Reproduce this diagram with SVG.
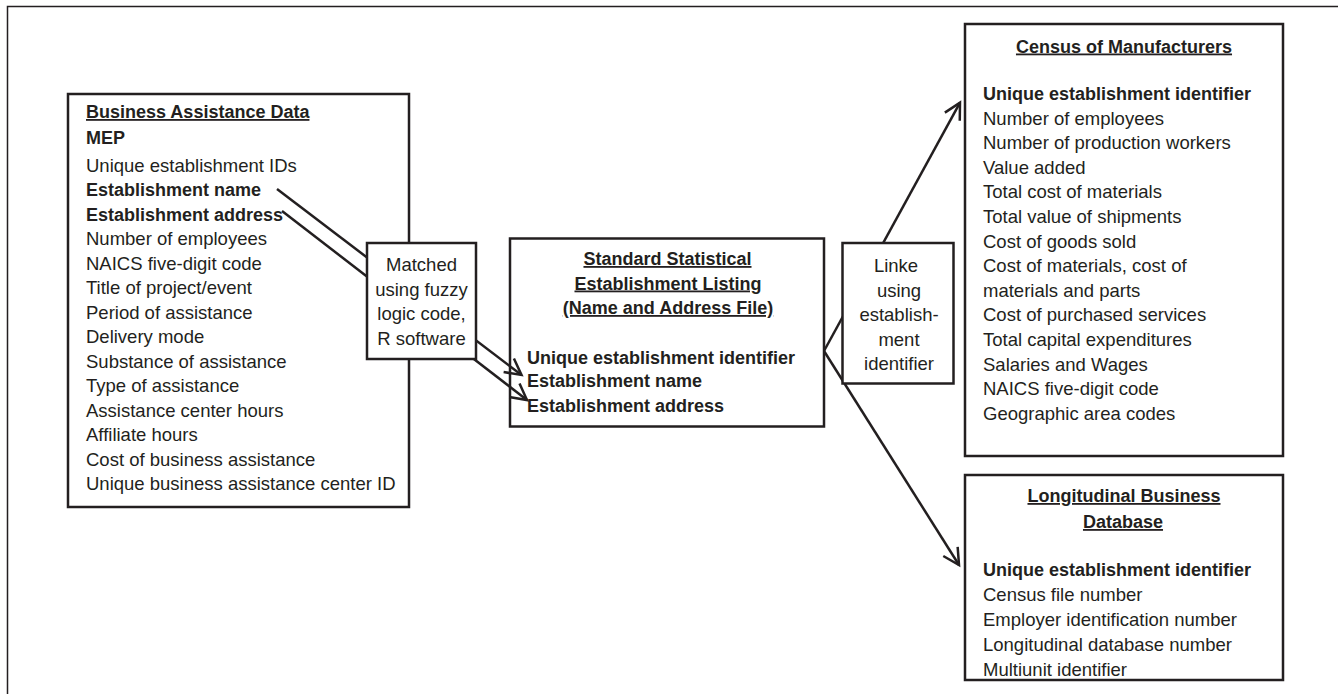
<svg xmlns="http://www.w3.org/2000/svg" width="1338" height="694" viewBox="0 0 1338 694">
<style>
text{font-family:"Liberation Sans",Arial,sans-serif;fill:#231f20;}
.r{font-size:18.5px;}
.b{font-size:18px;font-weight:bold;}
.u{text-decoration:underline;}
.m{text-anchor:middle;}
.box{fill:#fff;stroke:#231f20;stroke-width:2.5;}
.ln{fill:none;stroke:#231f20;stroke-width:2.5;}
.frame{fill:none;stroke:#231f20;stroke-width:1.5;}
</style>
<defs>
<marker id="arr" markerUnits="userSpaceOnUse" markerWidth="40" markerHeight="40" refX="0" refY="0" viewBox="-20 -20 40 40" orient="auto" overflow="visible">
<path d="M-16,-8.5 L0,0 L-16,8.5" fill="none" stroke="#231f20" stroke-width="2.5"/>
</marker>
</defs>
<rect width="1338" height="694" fill="#fff"/>
<path class="frame" d="M7.5,694 V6.5 H1338"/>

<g id="business-assistance">
<rect class="box" x="68" y="94" width="341" height="413"/>
<text class="b u" x="86" y="118">Business Assistance Data</text>
<text class="b" x="86" y="144">MEP</text>
<text class="r" x="86" y="171.5">Unique establishment IDs</text>
<text class="b" x="86" y="196">Establishment name</text>
<text class="b" x="86" y="220.5">Establishment address</text>
<text class="r" x="86" y="245">Number of employees</text>
<text class="r" x="86" y="269.5">NAICS five-digit code</text>
<text class="r" x="86" y="294">Title of project/event</text>
<text class="r" x="86" y="318.5">Period of assistance</text>
<text class="r" x="86" y="343">Delivery mode</text>
<text class="r" x="86" y="367.5">Substance of assistance</text>
<text class="r" x="86" y="392">Type of assistance</text>
<text class="r" x="86" y="416.5">Assistance center hours</text>
<text class="r" x="86" y="441">Affiliate hours</text>
<text class="r" x="86" y="465.5">Cost of business assistance</text>
<text class="r" x="86" y="490">Unique business assistance center ID</text>
</g>

<g id="ssel">
<rect class="box" x="510" y="238.5" width="314" height="188"/>
<text class="b u m" x="667.5" y="265">Standard Statistical</text>
<text class="b u m" x="668" y="289.5">Establishment Listing</text>
<text class="b u m" x="668" y="314">(Name and Address File)</text>
<text class="b" x="527" y="363.5">Unique establishment identifier</text>
<text class="b" x="527" y="387">Establishment name</text>
<text class="b" x="527" y="411.5">Establishment address</text>
</g>

<g id="census">
<rect class="box" x="965" y="24" width="318" height="432"/>
<text class="b u m" x="1124" y="52.5">Census of Manufacturers</text>
<text class="b" x="983" y="100">Unique establishment identifier</text>
<text class="r" x="983" y="124.6">Number of employees</text>
<text class="r" x="983" y="149.2">Number of production workers</text>
<text class="r" x="983" y="173.8">Value added</text>
<text class="r" x="983" y="198.4">Total cost of materials</text>
<text class="r" x="983" y="223">Total value of shipments</text>
<text class="r" x="983" y="247.6">Cost of goods sold</text>
<text class="r" x="983" y="272.2">Cost of materials, cost of</text>
<text class="r" x="983" y="296.8">materials and parts</text>
<text class="r" x="983" y="321.4">Cost of purchased services</text>
<text class="r" x="983" y="346">Total capital expenditures</text>
<text class="r" x="983" y="370.6">Salaries and Wages</text>
<text class="r" x="983" y="395.2">NAICS five-digit code</text>
<text class="r" x="983" y="419.8">Geographic area codes</text>
</g>

<g id="lbd">
<rect class="box" x="965" y="475" width="318" height="205"/>
<text class="b u m" x="1124" y="502">Longitudinal Business</text>
<text class="b u m" x="1123" y="528">Database</text>
<text class="b" x="983" y="576">Unique establishment identifier</text>
<text class="r" x="983" y="601">Census file number</text>
<text class="r" x="983" y="626">Employer identification number</text>
<text class="r" x="983" y="651">Longitudinal database number</text>
<text class="r" x="983" y="676">Multiunit identifier</text>
</g>

<g id="connectors">
<line class="ln" x1="277" y1="189" x2="521.5" y2="375" marker-end="url(#arr)"/>
<line class="ln" x1="282" y1="211" x2="527" y2="400" marker-end="url(#arr)"/>
<line class="ln" x1="824" y1="351" x2="960" y2="102.7" marker-end="url(#arr)"/>
<line class="ln" x1="824" y1="351" x2="959" y2="565" marker-end="url(#arr)"/>
</g>

<g id="matched">
<rect class="box" x="367" y="243" width="109" height="116"/>
<text class="r m" x="421.5" y="271">Matched</text>
<text class="r m" x="421.5" y="295.5">using fuzzy</text>
<text class="r m" x="421.5" y="320">logic code,</text>
<text class="r m" x="421.5" y="344.5">R software</text>
</g>

<g id="linke">
<rect class="box" x="842.5" y="243" width="111" height="140.5"/>
<text class="r m" x="896" y="272">Linke</text>
<text class="r m" x="899" y="296.5">using</text>
<text class="r m" x="899" y="321">establish-</text>
<text class="r m" x="899" y="345.5">ment</text>
<text class="r m" x="899" y="370">identifier</text>
</g>
</svg>
